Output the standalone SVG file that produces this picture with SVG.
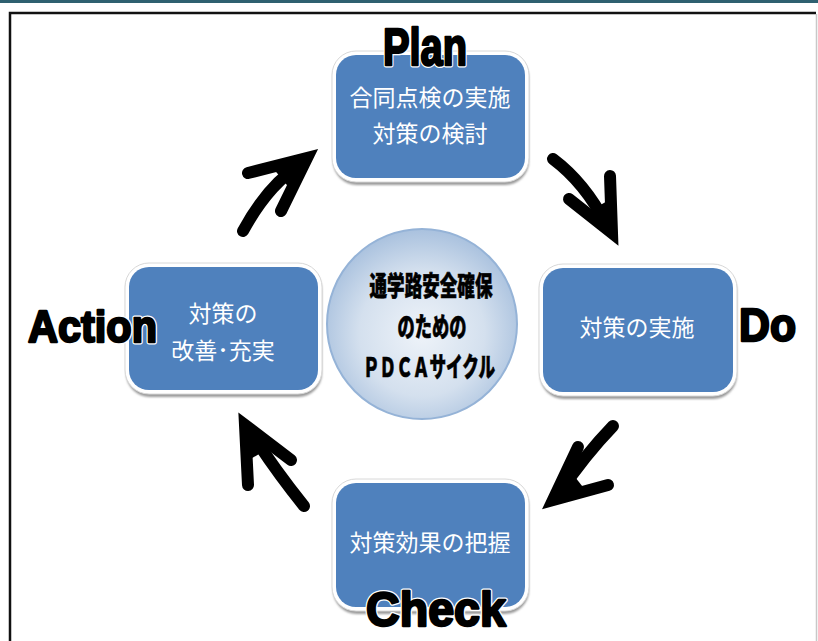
<svg xmlns="http://www.w3.org/2000/svg" width="818" height="641" viewBox="0 0 818 641">
<style>
.boxw{fill:#ffffff;stroke:#d8d8d8;stroke-width:1}
.boxs{fill:#9a9a9a;filter:url(#blur)}
.boxb{fill:#4f81bd}
.jt{font-family:"Noto Sans CJK JP","Noto Sans CJK SC",sans-serif;font-size:23px;fill:#ffffff;text-anchor:middle}
.ct{font-family:"Noto Sans CJK JP","Noto Sans CJK SC",sans-serif;font-size:27px;font-weight:900;fill:#000000;stroke:#000;stroke-width:0.6;text-anchor:middle}
.enh{font-family:"Liberation Sans",Arial,sans-serif;font-weight:bold;fill:#ffffff;stroke:#ffffff;stroke-width:5;stroke-linejoin:round}
.en{font-family:"Liberation Sans",Arial,sans-serif;font-weight:bold;fill:#000000;stroke:#000000;stroke-width:2.4;stroke-linejoin:round}
.shaft{fill:none;stroke:#000;stroke-width:12;stroke-linecap:round}
.head{fill:none;stroke:#000;stroke-width:12;stroke-linecap:round;stroke-linejoin:miter;stroke-miterlimit:6}
.wedge{fill:#000}
</style>
<defs>
<filter id="blur" x="-10%" y="-10%" width="120%" height="120%"><feGaussianBlur stdDeviation="1.2"/></filter>
<radialGradient id="cg" cx="50%" cy="55%" r="55%">
<stop offset="0" stop-color="#eef3f9"/>
<stop offset="0.6" stop-color="#d4e0ee"/>
<stop offset="1" stop-color="#a9c1de"/>
</radialGradient>
</defs>
<rect x="0" y="0" width="818" height="3" fill="#2f6070"/>
<g id="frame">
<path d="M10,641 L10,13 L816,13" fill="none" stroke="#111" stroke-width="2.5"/>
<line x1="816.5" y1="14" x2="816.5" y2="641" stroke="#c8c8c8" stroke-width="1.5"/>
</g>
<g id="connectors">
<path class="shaft" d="M553,159 Q585,183 606,224"/>
<path class="head" d="M569,199 L612,233 L610,176"/>
<polygon class="wedge" points="612,233 586,213 611,199"/>
<path class="shaft" d="M613,426 Q585,455 560,492"/>
<path class="head" d="M578,447 L553,500 L608,485"/>
<polygon class="wedge" points="553,500 568,468 586,491"/>
<path class="shaft" d="M304,506 Q275,470 252,434"/>
<path class="head" d="M248,485 L245,425 L291,460"/>
<polygon class="wedge" points="245,425 247,461 273,446"/>
<path class="shaft" d="M243,231 Q268,185 300,165"/>
<path class="head" d="M248,173 L307,158 L281,211"/>
<polygon class="wedge" points="307,158 272,167 291,190"/>
</g>
<g id="center">
<circle cx="422" cy="324" r="95" fill="url(#cg)" stroke="#95b3d7" stroke-width="2"/>
<text class="ct" x="431" y="296" textLength="123" lengthAdjust="spacingAndGlyphs">通学路安全確保</text>
<text class="ct" x="432" y="337" textLength="69" lengthAdjust="spacingAndGlyphs">のための</text>
<text class="ct" x="429" y="377" textLength="132" lengthAdjust="spacingAndGlyphs">ＰＤＣＡサイクル</text>
</g>
<g id="plan">
<rect class="boxs" x="333" y="54" width="196" height="131" rx="24"/>
<rect class="boxw" x="332" y="51" width="197" height="131" rx="24"/>
<rect class="boxb" x="336" y="55" width="189" height="123" rx="20"/>
<text class="jt" x="430" y="106">合同点検の実施</text>
<text class="jt" x="430" y="142">対策の検討</text>
<text class="enh" x="383" y="65" font-size="51" textLength="84" lengthAdjust="spacingAndGlyphs">Plan</text>
<text class="en" x="383" y="65" font-size="51" textLength="84" lengthAdjust="spacingAndGlyphs">Plan</text>
</g>
<g id="do">
<rect class="boxs" x="540" y="267" width="197" height="132" rx="24"/>
<rect class="boxw" x="539" y="264" width="198" height="132" rx="24"/>
<rect class="boxb" x="543" y="268" width="190" height="124" rx="20"/>
<text class="jt" x="637" y="336">対策の実施</text>
<text class="en" x="739" y="341" font-size="47" textLength="57" lengthAdjust="spacingAndGlyphs">Do</text>
</g>
<g id="action">
<rect class="boxs" x="126" y="266" width="196" height="131" rx="24"/>
<rect class="boxw" x="125" y="263" width="197" height="131" rx="24"/>
<rect class="boxb" x="129" y="267" width="189" height="123" rx="20"/>
<text class="jt" x="223" y="322">対策の</text>
<text class="jt" x="223" y="359">改善･充実</text>
<text class="enh" x="28" y="342" font-size="45" textLength="129" lengthAdjust="spacingAndGlyphs">Action</text>
<text class="en" x="28" y="342" font-size="45" textLength="129" lengthAdjust="spacingAndGlyphs">Action</text>
</g>
<g id="check">
<rect class="boxs" x="333" y="482" width="196" height="132" rx="24"/>
<rect class="boxw" x="332" y="479" width="197" height="132" rx="24"/>
<rect class="boxb" x="336" y="483" width="189" height="124" rx="20"/>
<text class="jt" x="430" y="551">対策効果の把握</text>
<text class="enh" x="366" y="626" font-size="48" textLength="140" lengthAdjust="spacingAndGlyphs">Check</text>
<text class="en" x="366" y="626" font-size="48" textLength="140" lengthAdjust="spacingAndGlyphs">Check</text>
</g>
</svg>
